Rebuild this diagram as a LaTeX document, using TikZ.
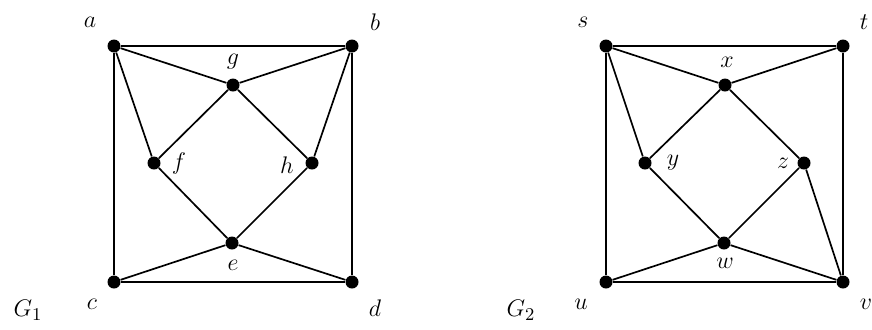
\documentclass[tikz,border=0pt]{standalone}

\begin{document}
\begin{tikzpicture}[
    x=0.5pt, y=-0.5pt,
    vtx/.style={circle, fill=black, inner sep=0pt, minimum size=6.5pt},
    lbl/.style={font=\fontsize{13}{15}\selectfont, inner sep=0pt},
    edge/.style={line width=0.85pt},
]
    \useasboundingbox (0,0) rectangle (872,329);

    % graph G_1
    \node[vtx] (a) at (114,46) {};
    \node[vtx] (b) at (352,46) {};
    \node[vtx] (g) at (233,85) {};
    \node[vtx] (f) at (154,163) {};
    \node[vtx] (h) at (312,163) {};
    \node[vtx] (e) at (232,243) {};
    \node[vtx] (c) at (114,282) {};
    \node[vtx] (d) at (352,282) {};

    \node[lbl] (la) at (90,22) {$a$};
    \node[lbl] (lb) at (375,22) {$b$};
    \node[lbl] (lg) at (233,62) {$g$};
    \node[lbl] (lf) at (179,163) {$f$};
    \node[lbl] (lh) at (287,165) {$h$};
    \node[lbl] (le) at (233,265) {$e$};
    \node[lbl] (lc) at (92,304) {$c$};
    \node[lbl] (ld) at (375,308) {$d$};
    \node[lbl] (G1) at (28,310) {$G_1$};

    \draw[edge] (a) -- (b) -- (d) -- (c) -- (a);
    \draw[edge] (a) -- (g) -- (b);
    \draw[edge] (a) -- (f) -- (g) -- (h) -- (b);
    \draw[edge] (f) -- (e) -- (h);
    \draw[edge] (c) -- (e) -- (d);

    % graph G_2
    \node[vtx] (s) at (606,46) {};
    \node[vtx] (t) at (843,46) {};
    \node[vtx] (x) at (725,85) {};
    \node[vtx] (y) at (645,163) {};
    \node[vtx] (z) at (804,163) {};
    \node[vtx] (w) at (724,243) {};
    \node[vtx] (u) at (606,282) {};
    \node[vtx] (v) at (843,282) {};

    \node[lbl] (ls) at (583,22) {$s$};
    \node[lbl] (lt) at (864,22) {$t$};
    \node[lbl] (lx) at (727,62) {$x$};
    \node[lbl] (ly) at (673,163) {$y$};
    \node[lbl] (lz) at (783,163) {$z$};
    \node[lbl] (lw) at (725,263) {$w$};
    \node[lbl] (lu) at (581,304) {$u$};
    \node[lbl] (lv) at (866,304) {$v$};
    \node[lbl] (G2) at (521,310) {$G_2$};

    \draw[edge] (s) -- (t) -- (v) -- (u) -- (s);
    \draw[edge] (s) -- (x) -- (t);
    \draw[edge] (s) -- (y) -- (x) -- (z) -- (v);
    \draw[edge] (y) -- (w) -- (z);
    \draw[edge] (u) -- (w) -- (v);
\end{tikzpicture}
\end{document}
